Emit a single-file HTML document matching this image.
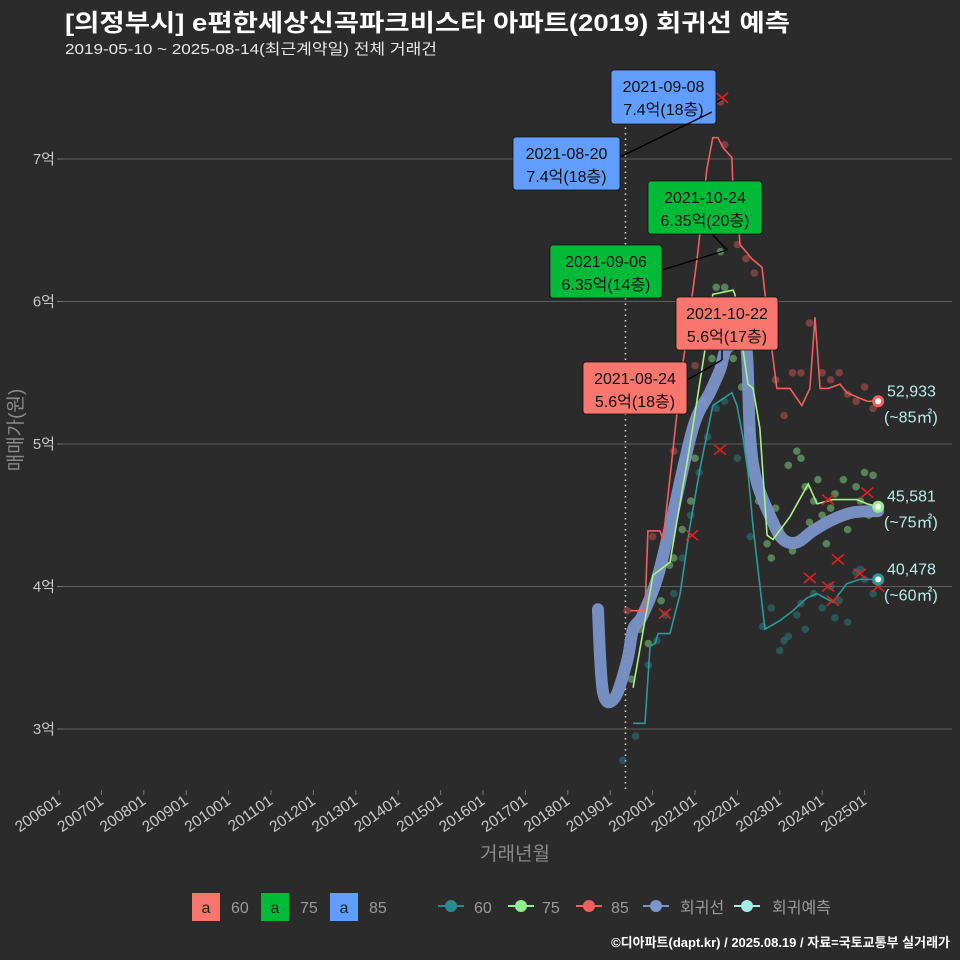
<!DOCTYPE html>
<html><head><meta charset="utf-8">
<style>
html,body{margin:0;padding:0;background:#2b2b2b;}
svg{display:block;font-family:"Liberation Sans","Noto Sans CJK KR",sans-serif;}
</style></head>
<body>
<svg id="chart" width="960" height="960" viewBox="0 0 960 960" xmlns="http://www.w3.org/2000/svg">
<rect x="0" y="0" width="960" height="960" fill="#2b2b2b"/>
<text x="65" y="31" fill="#ffffff" font-size="24" font-weight="bold" textLength="725" lengthAdjust="spacingAndGlyphs">[의정부시] e편한세상신곡파크비스타 아파트(2019) 회귀선 예측</text>
<text x="65" y="54" fill="#e8e8e8" font-size="15" textLength="372" lengthAdjust="spacingAndGlyphs">2019-05-10 ~ 2025-08-14(최근계약일) 전체 거래건</text>
<g id="grid"></g>
<g id="axes"></g>
<g id="marks"></g>
<g id="annot"></g>
<text x="515" y="860" fill="#8a8a8a" font-size="19" text-anchor="middle">거래년월</text>
<text transform="translate(22,430) rotate(-90)" fill="#8a8a8a" font-size="19" text-anchor="middle">매매가(원)</text>
<g font-size="16" fill="#9a9a9a">
  <rect x="192" y="893" width="28" height="28" fill="#f8766d"/>
  <text x="206" y="913" fill="#222" text-anchor="middle" font-size="16">a</text>
  <text x="231" y="913">60</text>
  <rect x="261" y="893" width="28" height="28" fill="#00ba38"/>
  <text x="275" y="913" fill="#222" text-anchor="middle" font-size="16">a</text>
  <text x="300" y="913">75</text>
  <rect x="330" y="893" width="28" height="28" fill="#619cff"/>
  <text x="344" y="913" fill="#222" text-anchor="middle" font-size="16">a</text>
  <text x="369" y="913">85</text>
  <g><line x1="438" y1="906" x2="464" y2="906" stroke="#2a8c8c" stroke-width="2"/><circle cx="451" cy="906" r="6" fill="#2a8c8c"/><text x="474" y="913">60</text></g>
  <g><line x1="508" y1="906" x2="534" y2="906" stroke="#90ee90" stroke-width="2"/><circle cx="521" cy="906" r="6" fill="#90ee90"/><text x="542" y="913">75</text></g>
  <g><line x1="576" y1="906" x2="602" y2="906" stroke="#f0605e" stroke-width="2"/><circle cx="589" cy="906" r="6" fill="#f0605e"/><text x="611" y="913">85</text></g>
  <g><line x1="643" y1="906" x2="669" y2="906" stroke="#7b95c8" stroke-width="2"/><circle cx="656" cy="906" r="6" fill="#7b95c8"/><text x="680" y="913">회귀선</text></g>
  <g><line x1="734" y1="906" x2="760" y2="906" stroke="#a0eee6" stroke-width="2"/><circle cx="747" cy="906" r="6" fill="#a0eee6"/><text x="772" y="913">회귀예측</text></g>
</g>
<text x="950" y="947" fill="#ffffff" font-size="13" font-weight="bold" text-anchor="end">©디아파트(dapt.kr) / 2025.08.19 / 자료=국토교통부 실거래가</text>
</svg>
<script>
const yTickValues=[3,4,5,6,7];
const yTickLabels=["3억","4억","5억","6억","7억"];
const xTickYears=[2006,2007,2008,2009,2010,2011,2012,2013,2014,2015,2016,2017,2018,2019,2020,2021,2022,2023,2024,2025];
const xTickLabels=["200601","200701","200801","200901","201001","201101","201201","201301","201401","201501","201601","201701","201801","201901","202001","202101","202201","202301","202401","202501"];
const regT=[2018.71,2018.83,2019.11,2019.40,2019.54,2019.75,2020.10,2020.41,2020.95,2021.35,2021.59,2021.75,2022.13,2022.23,2022.30,2022.46,2022.84,2023.08,2023.41,2023.78,2024.25,2024.73,2025.32];
const regV=[3.84,3.26,3.22,3.48,3.70,3.79,4.05,4.42,5.11,5.36,5.52,5.67,5.71,5.61,5.05,4.73,4.45,4.33,4.31,4.39,4.47,4.52,4.53];
const l85T=[2019.47,2019.82,2019.89,2020.17,2020.25,2020.65,2021.05,2021.28,2021.42,2021.54,2021.66,2021.87,2021.90,2021.99,2022.06,2022.34,2022.58,2022.70,2022.93,2023.00,2023.24,2023.52,2023.71,2023.83,2023.95,2024.14,2024.42,2024.58,2024.82,2025.06,2025.32];
const l85V=[3.83,3.83,4.39,4.39,4.33,5.42,6.30,6.93,7.15,7.15,7.08,7.01,6.74,6.74,6.40,6.30,6.24,5.93,5.39,5.39,5.39,5.27,5.39,5.89,5.39,5.39,5.42,5.36,5.33,5.30,5.30];
const l75T=[2019.54,2020.01,2020.41,2020.88,2021.24,2021.42,2021.90,2021.94,2022.13,2022.25,2022.37,2022.53,2022.70,2022.84,2023.24,2023.67,2023.88,2024.25,2024.82,2025.06,2025.32];
const l75V=[3.29,4.08,4.17,4.99,5.67,6.05,6.08,6.05,5.67,5.42,5.39,5.11,4.36,4.33,4.49,4.72,4.58,4.61,4.61,4.58,4.56];
const l60T=[2019.54,2019.82,2019.94,2020.06,2020.13,2020.41,2020.65,2020.88,2021.12,2021.42,2021.87,2021.99,2022.13,2022.25,2022.37,2022.65,2023.00,2023.31,2023.64,2023.88,2024.25,2024.58,2024.89,2025.32];
const l60V=[3.04,3.04,3.58,3.60,3.67,3.67,3.95,4.42,4.83,5.27,5.36,5.27,5.05,4.80,4.42,3.70,3.76,3.83,3.92,3.95,3.89,4.02,4.05,4.05];
const p60T=[2019.3,2019.6,2019.9,2020.1,2020.3,2020.5,2020.7,2020.9,2021.1,2021.3,2021.5,2021.7,2022.0,2022.3,2022.6,2022.8,2023.0,2023.2,2023.4,2023.6,2023.8,2024.0,2024.2,2024.4,2024.6,2024.8,2025.0,2025.2,2023.1,2023.5,2024.3,2024.9];
const p60V=[2.78,2.95,3.45,3.62,3.80,3.95,4.20,4.50,4.80,5.05,5.25,5.30,4.90,4.35,3.72,3.85,3.55,3.65,3.80,3.70,3.95,3.85,4.00,3.90,3.75,4.10,4.05,3.95,3.62,3.88,3.78,4.12];
const p75T=[2019.5,2019.7,2019.9,2020.0,2020.2,2020.4,2020.5,2020.7,2020.9,2021.0,2021.2,2021.4,2021.5,2021.6,2021.7,2021.8,2021.9,2022.1,2022.3,2022.5,2022.7,2022.9,2023.0,2023.2,2023.4,2023.5,2023.6,2023.8,2023.9,2024.0,2024.2,2024.3,2024.5,2024.6,2024.8,2024.9,2025.0,2025.1,2025.2,2023.3,2023.7,2022.8,2024.1];
const p75V=[3.35,3.70,3.60,3.95,3.90,4.15,4.20,4.40,4.60,4.90,5.30,5.60,6.10,6.35,6.10,5.80,5.60,5.40,5.10,4.60,4.30,4.55,4.40,4.85,4.95,4.90,4.70,4.60,4.75,4.50,4.55,4.65,4.75,4.40,4.70,4.60,4.80,4.50,4.78,4.25,4.45,4.20,4.30];
const p85T=[2019.4,2020.0,2020.5,2021.0,2021.3,2021.6,2021.7,2021.9,2022.0,2022.2,2022.4,2022.6,2022.9,2023.1,2023.3,2023.5,2023.7,2024.0,2024.2,2024.4,2024.6,2024.8,2025.0,2025.2];
const p85V=[3.83,4.35,4.95,5.55,6.60,7.40,7.10,6.70,6.40,6.30,6.20,5.85,5.45,5.20,5.50,5.50,5.85,5.50,5.45,5.50,5.35,5.30,5.40,5.25];
const xMarkT=[2020.29,2020.93,2021.59,2021.64,2024.14,2024.37,2023.71,2024.14,2024.25,2024.89,2025.06,2025.32];
const xMarkV=[3.81,4.36,4.96,7.43,4.61,4.19,4.06,4.00,3.90,4.09,4.66,4.00];
const endLabels=["52,933","45,581","40,478"];
const endAreas=["(~85㎡)","(~75㎡)","(~60㎡)"];
const endV=[5.30,4.56,4.05];

const NS="http://www.w3.org/2000/svg";
const X=t=>59+(t-2006)*42.4;
const Y=v=>729-(v-3)*142.5;
function mk(tag,attrs,parent){const e=document.createElementNS(NS,tag);for(const k in attrs)e.setAttribute(k,attrs[k]);parent.appendChild(e);return e;}
const grid=document.getElementById('grid'),axes=document.getElementById('axes'),marks=document.getElementById('marks'),annot=document.getElementById('annot');

yTickValues.forEach((v,i)=>{
  const g=mk('line',{x1:62,x2:952,y1:Y(v),y2:Y(v),stroke:'#5e5e5e','stroke-width':1},grid);
  
  
  mk('line',{x1:57,x2:62,y1:Y(v),y2:Y(v),stroke:'#777'},axes);
  const t=mk('text',{x:55,y:Y(v)+5,fill:'#c8c8c8','font-size':15,'text-anchor':'end'},axes);
  t.textContent=yTickLabels[i];
  
  
});
xTickYears.forEach((yr,i)=>{
  const x=X(yr);
  mk('line',{x1:x,x2:x,y1:790,y2:795,stroke:'#777'},axes);
  const t=mk('text',{x:x+3,y:803,fill:'#c8c8c8','font-size':15.5,'text-anchor':'end',transform:`rotate(-35 ${x+3} 803)`},axes);
  t.textContent=xTickLabels[i];
  
  
});
const dl=mk('line',{x1:X(2019.36),x2:X(2019.36),y1:100,y2:792,stroke:'#cfcfcf','stroke-width':1.6,'stroke-dasharray':'1.5 4'},marks);



function dots(T,V,color,name){
  T.forEach((t,i)=>{const c=mk('circle',{cx:X(t),cy:Y(V[i]),r:3.8,fill:color,'fill-opacity':0.45},marks);
    
    });
}
dots(p60T,p60V,'#2a8c8c','point-60');
dots(p75T,p75V,'#90ee90','point-75');
dots(p85T,p85V,'#e05a58','point-85');

function smooth(T,V){
  const P=T.map((t,i)=>[X(t),Y(V[i])]);let d=`M${P[0][0]},${P[0][1]}`;
  for(let i=0;i<P.length-1;i++){const p0=P[i-1]||P[i],p1=P[i],p2=P[i+1],p3=P[i+2]||p2;
    d+=` C${p1[0]+(p2[0]-p0[0])/6},${p1[1]+(p2[1]-p0[1])/6} ${p2[0]-(p3[0]-p1[0])/6},${p2[1]-(p3[1]-p1[1])/6} ${p2[0]},${p2[1]}`;}
  return d;
}
const reg=mk('path',{d:smooth(regT,regV),fill:'none',stroke:'#7b95c8','stroke-width':12,'stroke-linecap':'round','stroke-linejoin':'round','stroke-opacity':0.95},marks);



function line(T,V,color,name){
  const p=mk('polyline',{points:T.map((t,i)=>X(t)+','+Y(V[i])).join(' '),fill:'none',stroke:color,'stroke-width':1.6},marks);
  
  
}
line(l85T,l85V,'#f0605e','line-85');
line(l75T,l75V,'#a8f08a','line-75');
line(l60T,l60V,'#2a9a9a','line-60');

xMarkT.forEach((t,i)=>{
  const x=X(t),y=Y(xMarkV[i]);
  const p=mk('path',{d:`M${x-6},${y-5}L${x+6},${y+5}M${x-6},${y+5}L${x+6},${y-5}`,stroke:'#e02020','stroke-width':1.6},marks);
  
  
});

const endColors=['#f06060','#90ee90','#2a9a9a'];
endV.forEach((v,i)=>{
  const c=mk('circle',{cx:X(2025.32),cy:Y(v),r:6,fill:endColors[i]},marks);
  
  
  mk('circle',{cx:X(2025.32),cy:Y(v),r:3,fill:'#ffffff'},marks);
  const a=mk('text',{x:887,y:Y(v)-5,fill:'#b8ece6','font-size':16},annot);a.textContent=endLabels[i];
  
  
  const b=mk('text',{x:884,y:Y(v)+21,fill:'#b8ece6','font-size':16},annot);b.textContent=endAreas[i];
  
  
});

const boxes=[
 {x:611,y:70,w:105,h:54,c:'#619cff',l1:'2021-09-08',l2:'7.4억(18층)',lx1:680,ly1:124,lx2:722,ly2:99},
 {x:513,y:137,w:107,h:53,c:'#619cff',l1:'2021-08-20',l2:'7.4억(18층)',lx1:620,ly1:157,lx2:712,ly2:112},
 {x:648,y:181,w:114,h:53,c:'#00ba38',l1:'2021-10-24',l2:'6.35억(20층)',lx1:712,ly1:234,lx2:727,ly2:250},
 {x:550,y:245,w:112,h:53,c:'#00ba38',l1:'2021-09-06',l2:'6.35억(14층)',lx1:662,ly1:270,lx2:727,ly2:250},
 {x:676,y:297,w:102,h:53,c:'#f8766d',l1:'2021-10-22',l2:'5.6억(17층)',lx1:722,ly1:350,lx2:722,ly2:360},
 {x:583,y:362,w:104,h:52,c:'#f8766d',l1:'2021-08-24',l2:'5.6억(18층)',lx1:687,ly1:380,lx2:722,ly2:360}
];
boxes.forEach(b=>{
  mk('line',{x1:b.lx1,y1:b.ly1,x2:b.lx2,y2:b.ly2,stroke:'#000','stroke-width':1.4},annot);
  const r=mk('rect',{x:b.x,y:b.y,width:b.w,height:b.h,rx:3,fill:b.c,stroke:'#111','stroke-width':0.8},annot);
  
  
  const t1=mk('text',{x:b.x+b.w/2,y:b.y+22,'font-size':16,fill:'#111','text-anchor':'middle'},annot);t1.textContent=b.l1;
  const t2=mk('text',{x:b.x+b.w/2,y:b.y+45,'font-size':16,fill:'#111','text-anchor':'middle'},annot);t2.textContent=b.l2;
});
</script>
</body></html>
